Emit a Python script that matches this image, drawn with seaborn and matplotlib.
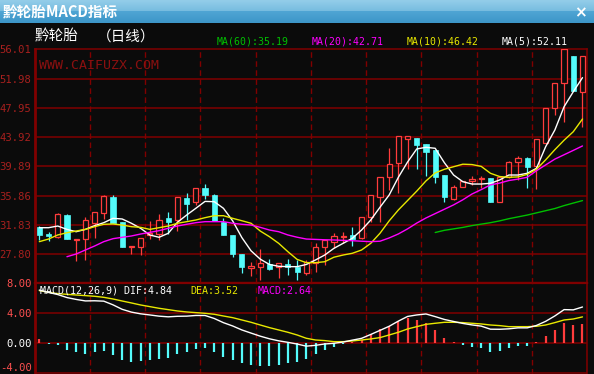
import numpy as np
import pandas as pd
import matplotlib
matplotlib.use("Agg")
import matplotlib.pyplot as plt
import seaborn as sns
from matplotlib.patches import Rectangle

# ---------------- data ----------------
opens = [31.51, 30.58, 30.21, 33.22, 29.75, 29.84, 32.06, 33.44, 35.64, 32.28,
         28.85, 28.82, 30.50, 30.60, 32.75, 32.50, 35.58, 34.96, 36.88, 35.96,
         32.29, 30.46, 27.84, 25.90, 26.00, 26.42, 26.00, 26.46, 26.00, 25.20,
         26.64, 28.85, 29.53, 30.20, 30.46, 30.00, 32.97, 35.73, 38.40, 40.32,
         43.62, 43.76, 42.98, 42.15, 38.71, 35.41, 37.10, 37.95, 38.15, 38.26,
         34.96, 38.48, 40.46, 41.00, 40.00, 43.07, 47.95, 51.33, 55.09, 50.09]
highs = [31.69, 30.90, 33.45, 33.30, 29.95, 32.90, 33.64, 35.90, 35.90, 32.30,
         29.00, 29.98, 32.40, 33.36, 33.58, 35.70, 36.30, 36.90, 37.50, 36.10,
         32.75, 30.50, 27.90, 26.70, 28.50, 27.10, 26.60, 27.10, 27.00, 27.05,
         29.30, 29.80, 30.70, 30.90, 31.60, 33.00, 36.00, 38.50, 42.40, 44.10,
         44.10, 43.80, 43.00, 42.20, 38.75, 37.30, 37.95, 38.60, 38.60, 38.30,
         38.50, 40.65, 41.35, 41.15, 43.65, 48.00, 51.40, 56.01, 55.10, 55.10]
lows = [29.75, 29.60, 29.98, 29.85, 26.88, 27.06, 30.07, 32.66, 32.10, 28.80,
        27.80, 27.76, 29.90, 29.75, 30.59, 31.00, 32.50, 34.60, 35.35, 32.40,
        30.40, 27.45, 25.20, 24.75, 24.30, 25.60, 24.50, 25.00, 24.30, 24.95,
        25.40, 26.35, 28.65, 29.30, 28.95, 29.90, 32.30, 32.30, 36.65, 36.20,
        39.60, 39.60, 38.60, 37.60, 35.05, 35.25, 37.05, 37.40, 36.90, 34.95,
        34.95, 38.25, 38.00, 36.90, 36.75, 43.00, 46.95, 46.05, 50.30, 45.36]
closes = [30.44, 30.30, 33.31, 29.89, 29.90, 32.53, 33.64, 35.82, 32.15, 28.85,
          29.00, 29.98, 30.80, 32.50, 32.30, 35.64, 34.75, 36.88, 35.96, 32.42,
          30.46, 27.85, 26.00, 26.20, 26.56, 25.80, 26.56, 26.00, 25.30, 26.80,
          28.76, 29.77, 30.32, 30.35, 29.86, 33.00, 35.92, 38.48, 40.23, 44.08,
          44.08, 42.84, 41.92, 38.44, 35.64, 37.10, 37.89, 38.10, 38.30, 35.04,
          38.48, 40.46, 41.00, 39.85, 43.62, 47.95, 51.33, 56.01, 50.31, 55.09]

ma5 = [31.46, 31.46, 31.69, 31.23, 30.91, 31.23, 31.74, 32.15, 32.75, 32.66,
       32.07, 31.38, 30.46, 30.14, 30.69, 32.20, 33.20, 34.13, 35.08, 35.04,
       34.13, 32.40, 30.10, 28.28, 27.13, 26.40, 26.15, 26.10, 26.10, 26.40,
       27.02, 27.70, 28.62, 29.31, 30.00, 31.14, 32.52, 34.27, 35.96, 38.40,
       40.50, 42.30, 42.52, 42.39, 40.40, 38.71, 37.79, 37.47, 37.47, 37.57,
       38.03, 38.71, 38.71, 38.95, 39.63, 42.61, 44.91, 48.11, 50.17, 52.11]
ma10 = [29.54, 29.90, 30.46, 30.77, 31.00, 31.23, 31.60, 31.93, 31.97, 31.83,
        31.60, 31.51, 31.23, 31.46, 31.69, 32.07, 32.29, 32.52, 32.84, 33.11,
        33.11, 32.75, 32.42, 32.07, 31.00, 30.22, 29.31, 28.16, 27.10, 26.65,
        26.65, 26.78, 27.40, 27.70, 27.94, 28.39, 29.31, 30.69, 32.40, 33.90,
        35.20, 36.50, 37.90, 39.00, 39.50, 39.85, 40.20, 40.15, 39.90, 38.95,
        38.50, 38.40, 38.45, 38.80, 39.50, 40.80, 42.20, 43.50, 44.67, 46.42]
ma20_start = 3
ma20 = [27.47, 27.84, 28.39, 28.94, 29.54, 29.95, 30.14, 30.32, 30.59, 30.82,
        31.05, 31.38, 31.69, 31.93, 32.15, 32.29, 32.29, 32.29, 32.07, 31.93,
        31.83, 31.51, 31.14, 30.91, 30.46, 30.15, 29.90, 29.85, 29.80, 29.77,
        29.72, 29.67, 29.60, 29.54, 29.60, 30.05, 30.60, 31.30, 32.10, 32.80,
        33.40, 34.00, 34.60, 35.30, 36.10, 36.70, 37.35, 37.60, 37.95, 38.15,
        38.40, 39.30, 40.10, 40.90, 41.50, 42.10, 42.71]
ma60_start = 43
ma60 = [30.80, 31.10, 31.30, 31.50, 31.75, 31.95, 32.15, 32.40, 32.70, 32.95,
        33.20, 33.50, 33.80, 34.10, 34.50, 34.85, 35.19]

macd = [0.58, -0.09, -0.22, -0.89, -1.20, -1.42, -1.20, -1.02, -1.56, -2.22,
        -2.44, -2.36, -2.22, -2.09, -1.91, -1.42, -1.11, -0.76, -0.58, -1.11,
        -1.78, -2.22, -2.67, -2.89, -2.98, -2.98, -2.89, -2.67, -2.50, -2.09,
        -1.42, -0.89, -0.44, -0.09, 0.22, 0.44, 1.20, 1.91, 2.31, 2.98,
        3.33, 3.11, 2.76, 1.78, 0.76, 0.22, -0.22, -0.44, -0.58, -1.11,
        -0.98, -0.58, -0.31, -0.31, 0.22, 0.98, 1.78, 2.76, 2.44, 2.64]
dea = [7.02, 6.80, 6.62, 6.53, 6.44, 6.36, 6.27, 6.13, 5.91, 5.64,
       5.38, 5.11, 4.89, 4.67, 4.49, 4.31, 4.18, 4.09, 4.00, 3.87,
       3.64, 3.42, 3.11, 2.80, 2.44, 2.09, 1.78, 1.47, 1.11, 0.67,
       0.44, 0.36, 0.22, 0.22, 0.31, 0.44, 0.58, 0.76, 1.11, 1.47,
       1.91, 2.22, 2.53, 2.67, 2.80, 2.80, 2.76, 2.67, 2.58, 2.44,
       2.36, 2.22, 2.22, 2.22, 2.27, 2.44, 2.76, 3.11, 3.24, 3.52]
dif = [7.10, 6.78, 6.50, 6.10, 5.85, 5.65, 5.67, 5.62, 5.13, 4.53,
       4.16, 3.93, 3.78, 3.62, 3.53, 3.60, 3.62, 3.71, 3.71, 3.31,
       2.75, 2.31, 1.78, 1.36, 0.95, 0.60, 0.33, 0.13, -0.10, -0.38,
       -0.27, -0.09, 0.00, 0.17, 0.42, 0.66, 1.18, 1.72, 2.27, 2.96,
       3.58, 3.78, 3.91, 3.56, 3.18, 2.91, 2.65, 2.45, 2.29, 1.88,
       1.87, 1.93, 2.06, 2.06, 2.38, 2.93, 3.65, 4.49, 4.46, 4.84]

price_ticks = [56.01, 51.98, 47.95, 43.92, 39.89, 35.86, 31.83, 27.80]
price_labels = ["56.01", "51.98", "47.95", "43.92", "39.89", "35.86", "31.83", "27.80"]
macd_ticks = [8.0, 4.0, 0.0]
macd_labels = ["8.00", "4.00", "0.00"]
macd_low_label = "-4.00"

# ---------------- styling ----------------
W, H = 594, 374
BG = "#0b0b0b"
GRID = "#800000"
RED = "#ff3c3c"
CYAN = "#54fcfc"
YEL = "#e8e800"
MAG = "#ff00ff"
GRN = "#00c000"
LBL = "#a8201e"

sns.set_theme(style="dark")
plt.rcParams["font.family"] = ["DejaVu Sans Mono", "Noto Sans CJK SC"]
plt.rcParams["axes.edgecolor"] = GRID

def fx(x):
    return x / W

def fy(y):
    return 1 - y / H

fig = plt.figure(figsize=(W / 100, H / 100), dpi=100, facecolor=BG)

# title bar with gradient
axt = fig.add_axes([0, fy(23), 1, 23 / H])
top = np.array([0x93, 0xcd, 0xe9]) / 255
mid1 = np.array([0x78, 0xbd, 0xe0]) / 255
mid2 = np.array([0x4f, 0xa5, 0xd4]) / 255
bot = np.array([0x3d, 0x96, 0xc8]) / 255
rows = []
for k in range(23):
    if k < 11:
        t = k / 10
        rows.append(top * (1 - t) + mid1 * t)
    else:
        t = (k - 11) / 11
        rows.append(mid2 * (1 - t) + bot * t)
grad = np.array(rows)[:, None, :]
axt.imshow(grad, aspect="auto", extent=[0, 1, 0, 1], interpolation="bilinear")
axt.set_axis_off()
fig.text(fx(3), fy(12.5), "黔轮胎MACD指标", color="white", fontsize=10.5,
         fontweight="bold", family=["Noto Sans CJK SC", "DejaVu Sans"],
         va="center", ha="left")
fig.text(fx(580), fy(12.5), "×", color="white", fontsize=11, fontweight="bold",
         family=["DejaVu Sans"], va="center", ha="center")

# header texts
fig.text(fx(35), fy(36.5), "黔轮胎", color="white", fontsize=10.5,
         family=["Noto Sans CJK SC"], va="center", ha="left")
fig.text(fx(97), fy(36.5), "（日线）", color="white", fontsize=10.5,
         family=["Noto Sans CJK SC"], va="center", ha="left")
ma_texts = [("MA(60):35.19", GRN, 216.7), ("MA(20):42.71", MAG, 311.7),
            ("MA(10):46.42", YEL, 406.7), ("MA(5):52.11", "white", 501.7)]
for s, c, xx in ma_texts:
    fig.text(fx(xx), fy(41), s, color=c, fontsize=7.1, va="center", ha="left",
             family=["DejaVu Sans Mono"])

L, R = 35, 587
TOP, SEP = 49.3, 283.3
n = len(closes)
x = np.arange(n)

# ---------------- price panel ----------------
ax = fig.add_axes([fx(L), fy(SEP), (R - L) / W, (SEP - TOP) / H])
ax.set_facecolor(BG)
ax.set_xlim(-0.47, 59.49)
ax.set_ylim(56.01 - (SEP - TOP) / 7.267, 56.01)

for lv in price_ticks[1:]:
    ax.axhline(lv, color=GRID, lw=1.1, zorder=1)
for k in range(5, n, 6):
    ax.axvline(k + 0.5, color=GRID, lw=1.0, ls=(0, (4, 2.5)), zorder=1)

bw = 0.56
for i in range(n):
    o, h, l, c = opens[i], highs[i], lows[i], closes[i]
    if c >= o:
        ax.vlines(i, l, h, color=RED, lw=0.9, zorder=2)
        bh = max(c - o, 0.12)
        ax.add_patch(Rectangle((i - bw / 2, o), bw, bh, facecolor=BG,
                               edgecolor=RED, lw=0.9, zorder=3))
    else:
        ax.vlines(i, l, h, color=CYAN, lw=0.9, zorder=2)
        ax.add_patch(Rectangle((i - bw / 2, c), bw, o - c, facecolor=CYAN,
                               edgecolor=CYAN, lw=0.5, zorder=3))

ma_df = pd.DataFrame({"x": x, "ma5": ma5, "ma10": ma10})
sns.lineplot(data=ma_df, x="x", y="ma5", ax=ax, color="white", lw=1.0, zorder=4)
sns.lineplot(data=ma_df, x="x", y="ma10", ax=ax, color=YEL, lw=1.0, zorder=4)
sns.lineplot(x=np.arange(ma20_start, ma20_start + len(ma20)), y=ma20, ax=ax,
             color=MAG, lw=1.0, zorder=4)
sns.lineplot(x=np.arange(ma60_start, ma60_start + len(ma60)), y=ma60, ax=ax,
             color=GRN, lw=1.0, zorder=4)

ax.text(0.0, 53.8, "WWW.CAIFUZX.COM", color="#8a1010", fontsize=9.5,
        family=["DejaVu Sans Mono"], va="center", ha="left", zorder=1)

ax.set_yticks(price_ticks)
ax.set_yticklabels(price_labels, color=LBL, fontsize=7.6, family=["DejaVu Sans Mono"])
ax.tick_params(axis="y", length=0, pad=2.5)
ax.set_xticks([])
ax.set_xlabel("")
ax.set_ylabel("")
ax.grid(False)
for side, sp in ax.spines.items():
    sp.set_visible(True)
    sp.set_color(GRID)
    sp.set_linewidth(1.1)
ax.spines["left"].set_linewidth(2.0)
ax.spines["bottom"].set_linewidth(1.6)

# ---------------- MACD panel ----------------
ax2 = fig.add_axes([fx(L), 0, (R - L) / W, (H - SEP) / H])
ax2.set_facecolor(BG)
ax2.set_xlim(-0.47, 59.49)
ax2.set_ylim(-(H - 343.3) / 7.5, 8.0)
for lv in [4.0, 0.0, -4.0]:
    ax2.axhline(lv, color=GRID, lw=1.1, zorder=1)
for k in range(5, n, 6):
    ax2.axvline(k + 0.5, color=GRID, lw=1.0, ls=(0, (4, 2.5)), zorder=1)

mcols = [RED if v >= 0 else CYAN for v in macd]
ax2.vlines(x, 0, macd, colors=mcols, lw=1.6, zorder=2)
mdf = pd.DataFrame({"x": x, "dif": dif, "dea": dea})
sns.lineplot(data=mdf, x="x", y="dea", ax=ax2, color=YEL, lw=1.0, zorder=3)
sns.lineplot(data=mdf, x="x", y="dif", ax=ax2, color="white", lw=1.0, zorder=3)

ax2.set_yticks(macd_ticks)
ax2.set_yticklabels(macd_labels, fontsize=7.6, family=["DejaVu Sans Mono"])
for lab, col in zip(ax2.get_yticklabels(), ["#ff5050", "#ff5050", "white"]):
    lab.set_color(col)
ax2.tick_params(axis="y", length=0, pad=2.5)
ax2.set_xticks([])
ax2.set_xlabel("")
ax2.set_ylabel("")
ax2.grid(False)
for side, sp in ax2.spines.items():
    sp.set_color(GRID)
    sp.set_linewidth(1.1)
ax2.spines["left"].set_linewidth(2.0)
ax2.spines["top"].set_linewidth(1.6)
ax2.spines["bottom"].set_visible(False)

# bottom label kept fully inside the figure
fig.text(fx(32), fy(368), macd_low_label, color="#ff5050", fontsize=7.6,
         va="center", ha="right", family=["DejaVu Sans Mono"])

fig.text(fx(39.5), fy(290.5), "MACD(12,26,9) DIF:4.84", color="white", fontsize=7.2,
         va="center", ha="left", family=["DejaVu Sans Mono"])
fig.text(fx(190.7), fy(290.5), "DEA:3.52", color=YEL, fontsize=7.2,
         va="center", ha="left", family=["DejaVu Sans Mono"])
fig.text(fx(257.3), fy(290.5), "MACD:2.64", color=MAG, fontsize=7.2,
         va="center", ha="left", family=["DejaVu Sans Mono"])

fig.savefig("out.png", dpi=100, facecolor=BG)
